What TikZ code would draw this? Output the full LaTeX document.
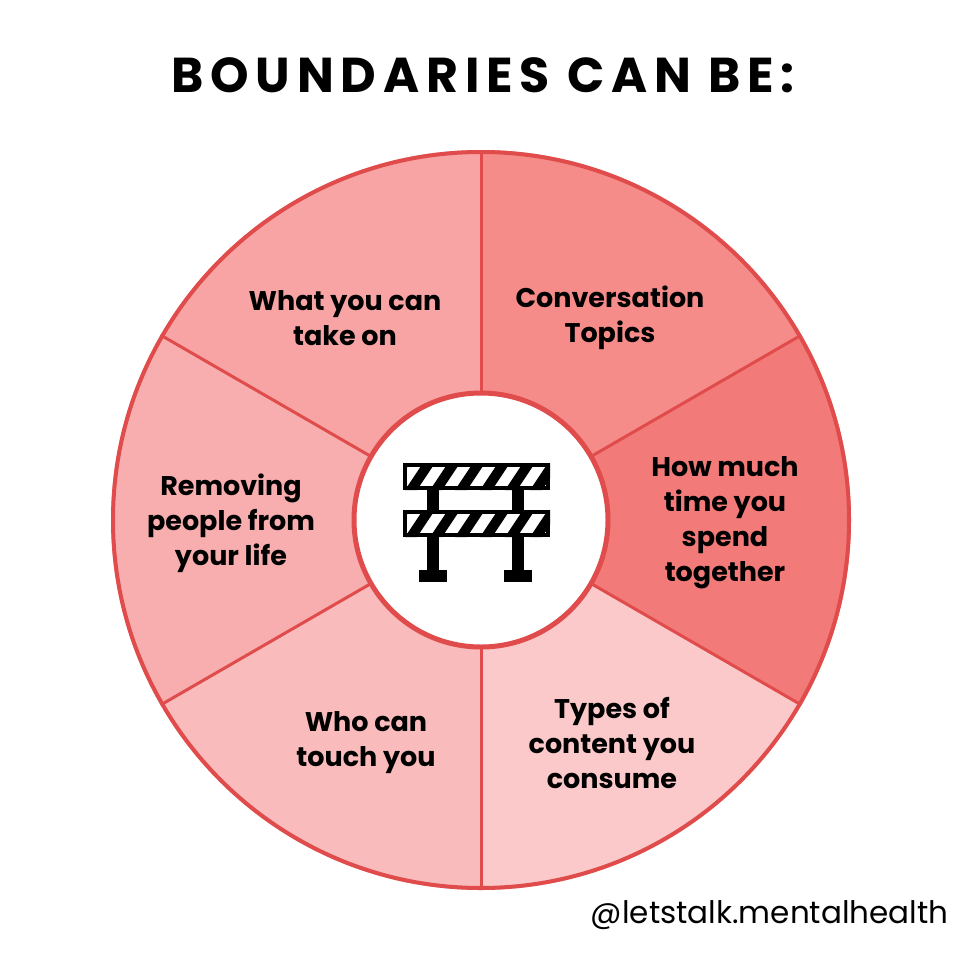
\documentclass[tikz,border=0pt]{standalone}
\usepackage{fontspec}
\setmainfont{Poppins}
\begin{document}
\begin{tikzpicture}[x=1pt,y=-1pt,
  lbl/.style={align=center,font=\fontsize{27}{35}\selectfont\bfseries,text=black},
  sep/.style={draw=edge,line width=3pt}]
\definecolor{edge}{HTML}{E04B4B}
\definecolor{sA}{HTML}{F8A4A4}
\definecolor{sB}{HTML}{F58C89}
\definecolor{sC}{HTML}{F27B79}
\definecolor{sD}{HTML}{FBC9C9}
\definecolor{sE}{HTML}{F9BBBB}
\definecolor{sF}{HTML}{F8AEAE}
\useasboundingbox (0,0) rectangle (962,963);
\fill[white] (0,0) rectangle (962,963);
\coordinate (c) at (481,520);
\foreach \a/\b/\col in {90/150/sA,30/90/sB,-30/30/sC,-90/-30/sD,-150/-90/sE,150/210/sF}{
  \fill[\col] (c) -- ++({cos(\a)*370},{-sin(\a)*370}) arc[start angle=-\a,end angle=-\b,radius=370] -- cycle;
}
\foreach \a in {90,30,-30,-90,-150,150}
  \draw[sep] (c) -- ++({cos(\a)*370},{-sin(\a)*370});
\draw[edge,line width=4pt] (c) circle[radius=368];
\fill[white] (c) circle[radius=127];
\draw[edge,line width=5pt] (c) circle[radius=127];
\begin{scope}
\foreach \y in {463,510}{
  \begin{scope}
  \clip (403,\y) rectangle (550,\y+27);
  \foreach \x in {380,405,...,560}
    \fill[black] (\x,\y+27) -- (\x+12,\y+27) -- (\x+30,\y) -- (\x+18,\y) -- cycle;
  \end{scope}
  \draw[black,line width=4pt] (405,\y+2) rectangle (548,\y+25);
}
\fill[black] (427,490) rectangle (439,510);
\fill[black] (512,490) rectangle (524,510);
\fill[black] (427,537) rectangle (439,572);
\fill[black] (512,537) rectangle (524,572);
\fill[black] (419,570) rectangle (447,582);
\fill[black] (504,570) rectangle (532,582);
\end{scope}
\node[font=\fontsize{49}{52}\selectfont\bfseries] (t) at (483,75) {\addfontfeature{LetterSpace=14}BOUNDARIES CAN BE:};
\node[lbl] (s1) at (345,318) {What you can\\take on};
\node[lbl] (s2) at (610,318) {Conversation\\Topics};
\node[lbl] (s3) at (725,523) {How much\\time you\\spend\\together};
\node[lbl] (s4) at (612,743) {Types of\\content you\\consume};
\node[lbl] (s5) at (366,743) {Who can\\touch you};
\node[lbl] (s6) at (231,523) {Removing\\people from\\your life};
\node[font=\fontsize{31}{34}\selectfont, anchor=east] (h) at (952,915) {@letstalk.mentalhealth};
\end{tikzpicture}
\end{document}
